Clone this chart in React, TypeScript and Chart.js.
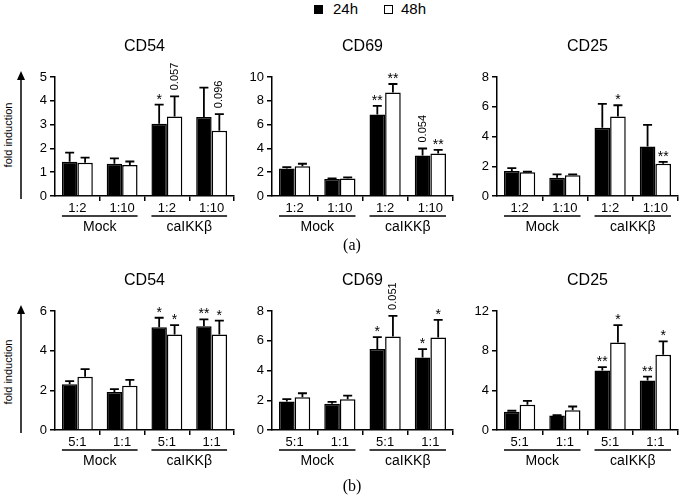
import React, { useEffect, useRef } from "react";
import { Chart, registerables } from "chart.js";

Chart.register(...registerables);

const FONT = "'Liberation Sans', Arial, Helvetica, sans-serif";

// ---------- data ----------
const seriesLabels = ["24h", "48h"];
const groups = ["Mock", "caIKKβ"];
const groupSpans = [[0, 1], [2, 3]];
const ratiosA = ["1:2", "1:10", "1:2", "1:10"];
const ratiosB = ["5:1", "1:1", "5:1", "1:1"];

// (a) CD54
const a54Mean24 = [1.44, 1.35, 3.04, 3.32];
const a54Sem24 = [0.38, 0.23, 0.8, 1.23];
const a54Mean48 = [1.4, 1.3, 3.34, 2.74];
const a54Sem48 = [0.21, 0.15, 0.85, 0.7];
const a54Marks24 = ["", "", "*", ""];
const a54Marks48 = ["", "", "0.057", "0.096"];

// (a) CD69
const a69Mean24 = [2.32, 1.42, 6.84, 3.41];
const a69Sem24 = [0.11, 0.06, 0.73, 0.58];
const a69Mean48 = [2.51, 1.48, 8.69, 3.58];
const a69Sem48 = [0.2, 0.08, 0.72, 0.3];
const a69Marks24 = ["", "", "**", "0.054"];
const a69Marks48 = ["", "", "**", "**"];

// (a) CD25
const a25Mean24 = [1.68, 1.23, 4.58, 3.33];
const a25Sem24 = [0.2, 0.22, 1.61, 1.45];
const a25Mean48 = [1.59, 1.39, 5.34, 2.17];
const a25Sem48 = [0.04, 0.06, 0.76, 0.13];
const a25Marks24 = ["", "", "", ""];
const a25Marks48 = ["", "", "*", "**"];

// (b) CD54
const b54Mean24 = [2.31, 1.91, 5.18, 5.23];
const b54Sem24 = [0.15, 0.15, 0.48, 0.35];
const b54Mean48 = [2.68, 2.23, 4.81, 4.81];
const b54Sem48 = [0.39, 0.3, 0.48, 0.7];
const b54Marks24 = ["", "", "*", "**"];
const b54Marks48 = ["", "", "*", "*"];

// (b) CD69
const b69Mean24 = [1.91, 1.76, 5.44, 4.87];
const b69Sem24 = [0.16, 0.13, 0.8, 0.57];
const b69Mean48 = [2.2, 2.07, 6.29, 6.22];
const b69Sem48 = [0.27, 0.24, 1.38, 1.18];
const b69Marks24 = ["", "", "*", "*"];
const b69Marks48 = ["", "", "0.051", "*"];

// (b) CD25
const b25Mean24 = [1.84, 1.47, 5.99, 4.98];
const b25Sem24 = [0.1, 0.03, 0.36, 0.4];
const b25Mean48 = [2.54, 2.0, 8.83, 7.59];
const b25Sem48 = [0.4, 0.37, 1.74, 1.34];
const b25Marks24 = ["", "", "**", "**"];
const b25Marks48 = ["", "", "*", "*"];

// ---------- plugin for error bars, marks, title, groups ----------
const decorPlugin = {
  id: "decor",
  afterDraw(chart: any, _args: any, opts: any) {
    const { ctx, chartArea: ca, scales } = chart;
    const ys = scales.y;
    ctx.save();
    ctx.fillStyle = "#000";
    ctx.strokeStyle = "#000";

    ctx.font = `16px ${FONT}`;
    ctx.textAlign = "center";
    ctx.textBaseline = "middle";
    ctx.fillText(opts.title, (ca.left + ca.right) / 2, ca.top - 30);

    for (let d = 0; d < 2; d++) {
      const meta = chart.getDatasetMeta(d);
      const vals = chart.data.datasets[d].data;
      meta.data.forEach((bar: any, j: number) => {
        const topPx = ys.getPixelForValue(vals[j] + opts.sems[d][j]);
        ctx.lineWidth = 1.8;
        ctx.beginPath();
        ctx.moveTo(bar.x, bar.y);
        ctx.lineTo(bar.x, topPx);
        ctx.moveTo(bar.x - 4.5, topPx);
        ctx.lineTo(bar.x + 4.5, topPx);
        ctx.stroke();
        const mark = opts.marks[d][j];
        if (mark) {
          if (mark.indexOf(".") >= 0) {
            ctx.save();
            ctx.translate(bar.x, topPx - 6);
            ctx.rotate(-Math.PI / 2);
            ctx.font = `11px ${FONT}`;
            ctx.textAlign = "left";
            ctx.textBaseline = "middle";
            ctx.fillText(mark, 0, 0);
            ctx.restore();
          } else {
            ctx.font = `14px ${FONT}`;
            ctx.textAlign = "center";
            ctx.textBaseline = "alphabetic";
            ctx.fillText(mark, bar.x, topPx - 1);
          }
        }
      });
    }

    const m0 = chart.getDatasetMeta(0);
    const m1 = chart.getDatasetMeta(1);
    groupSpans.forEach(([a, b], gi) => {
      const x0 = m0.data[a].x - m0.data[a].width / 2;
      const x1 = m1.data[b].x + m1.data[b].width / 2;
      ctx.lineWidth = 1.5;
      ctx.beginPath();
      ctx.moveTo(x0, ca.bottom + 20);
      ctx.lineTo(x1, ca.bottom + 20);
      ctx.stroke();
      ctx.font = `14px ${FONT}`;
      ctx.textAlign = "center";
      ctx.textBaseline = "middle";
      ctx.fillText(groups[gi], (x0 + x1) / 2, ca.bottom + 31);
    });
    ctx.restore();
  },
};

type PanelProps = {
  title: string;
  cats: string[];
  m24: number[];
  s24: number[];
  m48: number[];
  s48: number[];
  k24: string[];
  k48: string[];
  max: number;
  step: number;
  left: number;
  top: number;
  width: number;
  height: number;
  padTop: number;
  padRight: number;
};

function Panel(p: PanelProps) {
  const ref = useRef<HTMLCanvasElement>(null);
  useEffect(() => {
    const chart = new Chart(ref.current as HTMLCanvasElement, {
      type: "bar",
      data: {
        labels: p.cats,
        datasets: [
          { label: seriesLabels[0], data: p.m24, backgroundColor: "#000", borderColor: "#000", borderWidth: 1.5 },
          { label: seriesLabels[1], data: p.m48, backgroundColor: "#fff", borderColor: "#000", borderWidth: 1.5 },
        ],
      },
      options: {
        responsive: false,
        animation: false,
        devicePixelRatio: 1,
        layout: { padding: { top: p.padTop, right: p.padRight, left: 0, bottom: 0 } },
        datasets: { bar: { categoryPercentage: 0.69, barPercentage: 1 } },
        plugins: {
          legend: { display: false },
          tooltip: { enabled: false },
          title: { display: false },
          decor: { title: p.title, sems: [p.s24, p.s48], marks: [p.k24, p.k48] },
        } as any,
        scales: {
          x: {
            offset: true,
            grid: {
              offset: true,
              drawOnChartArea: false,
              drawTicks: true,
              tickLength: 5,
              tickWidth: 1.5,
              lineWidth: 1.5,
              color: "#000",
              tickColor: (c: any) => (c.index === 0 || c.index === 4 ? "rgba(0,0,0,0)" : "#000"),
            },
            border: { display: true, color: "#000", width: 1.5 },
            ticks: { color: "#000", font: { size: 13, family: FONT }, padding: 0, maxRotation: 0, autoSkip: false },
            afterFit: (s: any) => {
              s.height = 44;
            },
          },
          y: {
            min: 0,
            max: p.max,
            ticks: { stepSize: p.step, color: "#000", font: { size: 13, family: FONT }, padding: 3 },
            grid: { drawOnChartArea: false, drawTicks: true, tickLength: 5, color: "#000", lineWidth: 1.5, tickWidth: 1.5 },
            border: { display: true, color: "#000", width: 1.5 },
            afterFit: (s: any) => {
              s.width = 45;
            },
          },
        },
      } as any,
      plugins: [decorPlugin as any],
    });
    return () => chart.destroy();
  }, []);
  return (
    <canvas
      ref={ref}
      width={p.width}
      height={p.height}
      style={{ position: "absolute", left: p.left, top: p.top, width: p.width, height: p.height }}
    />
  );
}

const cols = [
  { left: 10, width: 228, padRight: 4 },
  { left: 227, width: 230, padRight: 4 },
  { left: 452, width: 228, padRight: 2 },
];
const rows = [
  { top: 30, height: 210, padTop: 47 },
  { top: 265, height: 209, padTop: 46 },
];

function YLabel({ cy }: { cy: number }) {
  return (
    <div
      style={{
        position: "absolute",
        left: 8,
        top: cy,
        transform: "translate(-50%, -50%) rotate(-90deg)",
        font: `11px ${FONT}`,
        whiteSpace: "nowrap",
        color: "#000",
      }}
    >
      fold induction
    </div>
  );
}

export default function App() {
  return (
    <div
      style={{
        position: "absolute",
        left: 0,
        top: 0,
        width: 680,
        height: 497,
        background: "#fff",
        overflow: "hidden",
      }}
    >
      {/* legend */}
      <div style={{ position: "absolute", left: 314, top: 5, width: 9, height: 9, background: "#000" }} />
      <div style={{ position: "absolute", left: 333, top: 0, font: `15px ${FONT}`, lineHeight: "18px", color: "#000" }}>
        {seriesLabels[0]}
      </div>
      <div
        style={{
          position: "absolute",
          left: 384,
          top: 5,
          width: 9,
          height: 9,
          background: "#fff",
          border: "1px solid #000",
          boxSizing: "border-box",
        }}
      />
      <div style={{ position: "absolute", left: 401, top: 0, font: `15px ${FONT}`, lineHeight: "18px", color: "#000" }}>
        {seriesLabels[1]}
      </div>

      <YLabel cy={135} />
      <YLabel cy={372} />
      <svg width={680} height={497} style={{ position: "absolute", left: 0, top: 0 }}>
        <line x1={21} y1={199} x2={21} y2={78} stroke="#000" strokeWidth={1.5} />
        <polygon points="21,71 17,80 25,80" fill="#000" />
        <line x1={21} y1={433} x2={21} y2={312} stroke="#000" strokeWidth={1.5} />
        <polygon points="21,305 17,314 25,314" fill="#000" />
      </svg>

      <Panel title="CD54" cats={ratiosA} m24={a54Mean24} s24={a54Sem24} m48={a54Mean48} s48={a54Sem48} k24={a54Marks24} k48={a54Marks48} max={5} step={1} {...cols[0]} {...rows[0]} />
      <Panel title="CD69" cats={ratiosA} m24={a69Mean24} s24={a69Sem24} m48={a69Mean48} s48={a69Sem48} k24={a69Marks24} k48={a69Marks48} max={10} step={2} {...cols[1]} {...rows[0]} />
      <Panel title="CD25" cats={ratiosA} m24={a25Mean24} s24={a25Sem24} m48={a25Mean48} s48={a25Sem48} k24={a25Marks24} k48={a25Marks48} max={8} step={2} {...cols[2]} {...rows[0]} />
      <Panel title="CD54" cats={ratiosB} m24={b54Mean24} s24={b54Sem24} m48={b54Mean48} s48={b54Sem48} k24={b54Marks24} k48={b54Marks48} max={6} step={2} {...cols[0]} {...rows[1]} />
      <Panel title="CD69" cats={ratiosB} m24={b69Mean24} s24={b69Sem24} m48={b69Mean48} s48={b69Sem48} k24={b69Marks24} k48={b69Marks48} max={8} step={2} {...cols[1]} {...rows[1]} />
      <Panel title="CD25" cats={ratiosB} m24={b25Mean24} s24={b25Sem24} m48={b25Mean48} s48={b25Sem48} k24={b25Marks24} k48={b25Marks48} max={12} step={4} {...cols[2]} {...rows[1]} />

      <div style={{ position: "absolute", left: 352, top: 245, transform: "translate(-50%, -50%)", font: "16px 'Liberation Serif', 'Times New Roman', serif", color: "#000" }}>
        (a)
      </div>
      <div style={{ position: "absolute", left: 352, top: 486, transform: "translate(-50%, -50%)", font: "16px 'Liberation Serif', 'Times New Roman', serif", color: "#000" }}>
        (b)
      </div>
    </div>
  );
}
